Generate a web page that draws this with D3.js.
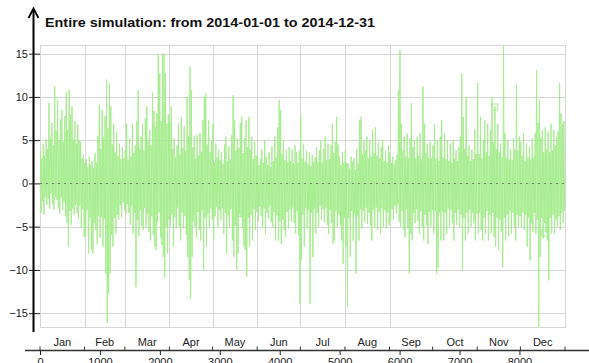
<!DOCTYPE html>
<html>
<head>
<meta charset="utf-8">
<script src="https://cdn.jsdelivr.net/npm/d3@7"></script>
<style>
  html, body { margin: 0; padding: 0; background: #fff; }
  svg { display: block; font-family: "Liberation Sans", Arial, sans-serif; }
</style>
</head>
<body>
<svg id="chart" width="589" height="363"></svg>
<script>
// Chart title
const title = "Entire simulation: from 2014-01-01 to 2014-12-31";

// Month labels along the time axis
const months = ["Jan", "Feb", "Mar", "Apr", "May", "Jun", "Jul", "Aug", "Sep", "Oct", "Nov", "Dec"];

// Hour-of-year ticks on the lower axis
const hourTicks = [0, 1000, 2000, 3000, 4000, 5000, 6000, 7000, 8000];

// Value ticks on the left axis
const valueTicks = [-15, -10, -5, 0, 5, 10, 15];

// Daily maximum of the simulated signal (one value per day, 2014)
const dailyHigh = [
  // Jan
  3.8, 2.9, 4.6, 3.2, 5.1, 4.0, 9.3, 5.2, 7.0, 4.4, 11.2, 6.1, 9.6, 5.0, 7.4, 8.5,
  4.8, 7.8, 10.5, 6.2, 10.8, 8.0, 8.9, 5.1, 7.2, 4.6, 6.8, 5.0, 4.8, 2.9, 3.4,
  // Feb
  2.4, 2.8, 1.9, 3.1, 2.2, 2.6, 1.8, 3.5, 2.4, 5.5, 9.1, 4.0, 8.5, 5.3, 7.8, 12.0,
  6.4, 11.6, 8.9, 4.5, 6.9, 3.6, 6.0, 3.2, 4.6, 2.8, 4.2, 2.9,
  // Mar
  3.8, 6.9, 2.8, 5.2, 3.1, 6.9, 3.5, 4.4, 7.2, 10.8, 4.0, 5.4, 6.9, 3.8, 7.5, 8.9,
  5.0, 6.2, 4.4, 10.5, 8.4, 6.6, 8.1, 14.9, 12.7, 7.2, 15.0, 15.0, 12.7, 6.9, 8.0,
  // Apr
  7.2, 8.9, 4.0, 5.2, 3.0, 4.4, 6.9, 3.4, 7.7, 4.1, 6.6, 3.8, 10.0, 5.5, 13.5, 10.8,
  4.2, 5.5, 2.9, 5.6, 3.2, 5.8, 3.6, 7.3, 10.0, 10.4, 4.5, 7.3, 3.6, 5.0,
  // May
  6.9, 2.5, 4.6, 3.0, 3.9, 2.7, 3.6, 2.3, 4.5, 5.4, 2.6, 4.3, 2.8, 5.6, 10.2, 7.3,
  3.8, 5.2, 4.1, 7.0, 7.7, 3.5, 5.2, 7.3, 4.2, 7.7, 3.9, 5.4, 2.8, 4.8, 3.2,
  // Jun
  3.5, 2.1, 2.8, 3.9, 2.4, 5.0, 3.1, 2.1, 3.6, 1.9, 4.3, 2.6, 5.4, 3.0, 6.5, 9.6,
  8.5, 3.4, 5.0, 2.7, 3.9, 2.5, 4.2, 2.6, 3.9, 2.3, 4.4, 3.6, 2.4, 3.8,
  // Jul
  7.9, 2.9, 4.6, 2.5, 3.8, 2.2, 3.6, 2.0, 3.3, 2.5, 3.0, 4.2, 2.5, 3.8, 5.0, 2.4,
  4.0, 5.4, 2.7, 4.6, 2.8, 4.4, 6.9, 3.5, 4.8, 7.7, 4.5, 3.1, 2.1, 3.6, 2.4,
  // Aug
  3.8, 2.4, 2.3, 1.7, 3.1, 2.5, 2.9, 1.6, 4.0, 2.3, 7.3, 7.7, 3.4, 5.0, 3.8, 5.4,
  2.9, 5.0, 3.1, 6.2, 3.5, 6.5, 3.2, 4.8, 2.9, 4.2, 5.0, 2.6, 3.8, 2.4, 4.4,
  // Sep
  3.6, 2.4, 3.1, 2.2, 2.7, 3.3, 10.8, 15.4, 6.9, 3.8, 5.4, 3.1, 5.8, 2.9, 5.2, 9.3,
  4.2, 5.0, 2.9, 5.4, 3.2, 5.8, 2.8, 11.2, 6.9, 3.5, 4.6, 3.0, 4.8, 2.9,
  // Oct
  4.4, 6.9, 2.9, 5.0, 2.6, 5.4, 7.3, 3.0, 5.8, 2.8, 5.0, 2.6, 4.6, 2.4, 5.0, 2.9,
  3.8, 2.6, 4.2, 5.4, 12.7, 7.7, 4.0, 10.0, 3.2, 4.4, 2.6, 3.9, 2.8, 6.2, 3.4,
  // Nov
  11.6, 3.4, 7.7, 2.9, 5.0, 7.3, 3.6, 6.9, 3.2, 6.2, 10.0, 4.8, 8.9, 4.0, 6.9, 3.6,
  4.6, 3.0, 16.0, 5.8, 3.0, 5.0, 2.8, 3.9, 2.7, 5.2, 3.9, 11.4, 3.8, 5.4,
  // Dec
  4.8, 3.2, 5.8, 2.6, 4.6, 3.0, 4.2, 2.8, 5.2, 3.0, 5.8, 13.1, 7.0, 9.6, 5.3, 6.2,
  3.6, 6.5, 4.0, 6.0, 3.6, 6.9, 3.8, 6.2, 4.4, 5.4, 6.0, 11.6, 8.1, 6.9, 7.2
];

// Daily minimum of the simulated signal (one value per day, 2014)
const dailyLow = [
  // Jan
  -3.4, -2.1, -3.6, -1.6, -2.5, -1.8, -2.9, -1.2, -2.4, -3.0, -1.6, -1.9, -2.8, -3.5, -1.7, -3.1,
  -2.2, -3.8, -4.6, -7.3, -3.2, -4.8, -2.9, -3.6, -2.5, -3.4, -4.1, -2.6, -5.1, -3.0, -6.2,
  // Feb
  -6.2, -3.1, -8.1, -4.0, -7.7, -8.1, -4.6, -5.4, -7.0, -3.8, -6.3, -3.9, -7.3, -4.1, -10.4, -16.1,
  -12.7, -10.4, -6.0, -7.3, -4.0, -5.8, -3.6, -4.2, -2.5, -3.9, -2.2, -3.1,
  // Mar
  -3.6, -2.4, -3.4, -4.8, -2.6, -5.8, -3.4, -12.0, -4.2, -6.1, -3.1, -4.9, -5.4, -2.8, -5.0, -3.5,
  -5.6, -6.6, -3.8, -5.9, -7.3, -7.7, -4.5, -3.4, -6.3, -7.1, -8.5, -10.8, -5.0, -8.1, -4.2,
  // Apr
  -5.0, -3.6, -7.3, -3.9, -5.2, -2.8, -5.0, -6.6, -3.4, -5.2, -3.8, -6.0, -8.5, -11.2, -13.3, -8.5,
  -4.4, -5.0, -6.2, -3.3, -5.4, -6.6, -3.1, -10.0, -4.0, -7.3, -3.5, -5.0, -2.9, -4.2,
  // May
  -6.6, -3.8, -2.7, -5.0, -3.1, -4.2, -2.9, -5.8, -3.4, -8.1, -3.7, -5.0, -3.0, -6.6, -8.5, -4.9,
  -10.0, -8.1, -3.6, -3.9, -5.2, -7.3, -7.7, -10.8, -4.0, -7.3, -3.6, -6.6, -3.0, -5.4, -3.3,
  // Jun
  -4.4, -2.7, -3.8, -5.0, -2.9, -5.8, -3.4, -4.1, -2.6, -4.5, -5.0, -3.3, -6.6, -3.7, -6.6, -4.4,
  -7.0, -4.2, -5.4, -6.2, -3.3, -5.2, -3.0, -4.4, -2.8, -4.6, -5.8, -3.2, -6.0, -13.9,
  // Jul
  -8.9, -3.6, -7.3, -2.8, -5.2, -3.1, -13.9, -3.4, -8.5, -2.9, -5.8, -3.4, -5.0, -2.6, -4.2, -3.0,
  -4.5, -2.8, -4.8, -5.8, -3.1, -4.6, -7.0, -6.6, -3.2, -5.0, -3.6, -4.8, -6.6, -9.3, -4.0,
  // Aug
  -7.3, -14.3, -4.0, -8.5, -3.2, -6.6, -3.5, -10.4, -3.8, -6.6, -3.0, -5.2, -3.2, -4.4, -2.8, -4.7,
  -3.4, -4.9, -6.6, -3.1, -5.0, -2.8, -5.4, -3.3, -5.8, -2.9, -5.0, -3.1, -5.2, -3.4, -4.8,
  // Sep
  -4.4, -3.0, -4.2, -2.6, -3.5, -2.4, -4.4, -5.0, -3.2, -5.4, -6.2, -3.0, -5.2, -10.4, -5.8, -6.6,
  -3.4, -4.6, -3.0, -4.4, -5.8, -3.2, -5.0, -6.6, -3.6, -4.9, -7.0, -3.3, -5.0, -3.1,
  // Oct
  -5.8, -3.2, -10.4, -9.7, -3.4, -6.6, -3.2, -6.6, -3.4, -5.8, -2.9, -5.0, -3.1, -4.6, -6.6, -3.4,
  -4.8, -3.0, -5.0, -3.6, -10.0, -4.0, -6.6, -3.4, -5.8, -3.0, -5.0, -3.4, -4.6, -6.6, -3.5,
  // Nov
  -5.8, -3.4, -5.4, -6.6, -4.0, -5.8, -3.2, -6.6, -3.6, -5.8, -3.4, -6.2, -7.3, -4.0, -7.7, -4.2,
  -5.6, -9.7, -4.0, -6.6, -3.6, -6.2, -3.2, -5.8, -3.4, -5.0, -6.6, -3.6, -5.0, -3.8,
  // Dec
  -5.0, -3.4, -5.4, -3.6, -7.3, -4.0, -8.9, -4.6, -5.6, -3.4, -5.8, -4.2, -16.6, -8.5, -4.0, -6.4,
  -4.6, -5.7, -6.6, -11.2, -4.0, -5.8, -3.6, -5.8, -4.2, -5.0, -3.8, -5.4, -3.4, -4.6, -3.2
];

// Highlighted samples (hour of year, value)
const markerHours = [3339, 7587, 8421];
const markerValues = [-3.5, 8.84, -5.74];

// ---- layout ----
const plot = { left: 40, right: 565, top: 45, bottom: 327 };
const axisX = 33.5;
const lowerAxisY = 350;
const green = "#a6ed8f";
const gridColor = "#d6d6d6";

const svg = d3.select("#chart");
svg.append("rect").attr("width", 589).attr("height", 363).attr("fill", "#fff");

const start = new Date(Date.UTC(2014, 0, 1));
const end = new Date(Date.UTC(2015, 0, 1));

const xHour = d3.scaleLinear().domain([0, 8760]).range([plot.left, plot.right]);
const xTime = d3.scaleUtc().domain([start, end]).range([plot.left, plot.right]);
const y = d3.scaleLinear()
  .domain(d3.extent(dailyHigh.concat(dailyLow)))
  .range([plot.bottom, plot.top]);

// plot frame and grid
svg.append("rect")
  .attr("x", plot.left + 0.5).attr("y", plot.top + 0.5)
  .attr("width", plot.right - plot.left).attr("height", plot.bottom - plot.top)
  .attr("fill", "none").attr("stroke", gridColor);

svg.append("g").selectAll("line").data(valueTicks).join("line")
  .attr("x1", plot.left).attr("x2", plot.right)
  .attr("y1", d => Math.round(y(d)) + 0.5).attr("y2", d => Math.round(y(d)) + 0.5)
  .attr("stroke", gridColor);

const monthStarts = d3.utcMonth.range(start, end);
svg.append("g").selectAll("line").data(monthStarts.slice(0, 9)).join("line")
  .attr("x1", d => Math.round(xTime(d)) + 0.5).attr("x2", d => Math.round(xTime(d)) + 0.5)
  .attr("y1", plot.top).attr("y2", plot.bottom)
  .attr("stroke", gridColor);

// the signal: daily max / min alternating over the hours of each day
const points = [];
dailyHigh.forEach((hi, i) => {
  points.push([i * 24 + 6, hi]);
  points.push([i * 24 + 18, dailyLow[i]]);
});
const line = d3.line().x(d => xHour(d[0])).y(d => y(d[1]));
svg.append("path")
  .attr("d", line(points))
  .attr("fill", "none")
  .attr("stroke", green)
  .attr("stroke-width", 1)
  .attr("stroke-linejoin", "miter");

// zero reference line
svg.append("line")
  .attr("x1", plot.left).attr("x2", plot.right)
  .attr("y1", Math.round(y(0)) + 0.5).attr("y2", Math.round(y(0)) + 0.5)
  .attr("stroke", "#444").attr("stroke-opacity", 0.6)
  .attr("stroke-dasharray", "2,4");

// highlighted samples
svg.append("g").selectAll("rect").data(markerHours).join("rect")
  .attr("x", (d) => xHour(d) - 3)
  .attr("y", (d, i) => y(markerValues[i]) - 3)
  .attr("width", 6).attr("height", 6)
  .attr("fill", "none").attr("stroke", green).attr("stroke-width", 1);

// left value axis with arrow
const yAxis = d3.axisLeft(y).tickValues(valueTicks).tickSize(11).tickPadding(1);
const gy = svg.append("g").attr("transform", `translate(${plot.left},0)`).call(yAxis);
gy.select(".domain").remove();
gy.selectAll(".tick line").attr("stroke", "#222");
gy.selectAll(".tick text").attr("font-size", 11).attr("fill", "#222")
  .attr("font-family", "Liberation Sans, Arial, sans-serif");

svg.append("line")
  .attr("x1", axisX).attr("x2", axisX).attr("y1", 332).attr("y2", 9)
  .attr("stroke", "#000").attr("stroke-width", 2);
svg.append("path")
  .attr("d", `M${axisX - 5},18 L${axisX},8.5 L${axisX + 5},18`)
  .attr("fill", "none").attr("stroke", "#000").attr("stroke-width", 1.8);

// title
svg.append("text")
  .attr("x", 45).attr("y", 27)
  .attr("font-size", 13).attr("font-weight", "bold").attr("fill", "#111")
  .attr("textLength", 330).attr("lengthAdjust", "spacingAndGlyphs")
  .text(title);

// lower axis: hour of year
const hourAxis = d3.axisBottom(xHour).tickValues(hourTicks).tickSize(5).tickPadding(3)
  .tickFormat(d3.format("d"));
const gx = svg.append("g").attr("transform", `translate(0,${lowerAxisY})`).call(hourAxis);
gx.select(".domain").remove();
gx.selectAll(".tick line").attr("stroke", "#222");
gx.selectAll(".tick text").attr("font-size", 11).attr("fill", "#222")
  .attr("font-family", "Liberation Sans, Arial, sans-serif");

svg.append("line")
  .attr("x1", 25).attr("x2", 589).attr("y1", lowerAxisY + 0.5).attr("y2", lowerAxisY + 0.5)
  .attr("stroke", "#333").attr("stroke-width", 1.5);

// month boundaries and month names
const boundaries = monthStarts.concat([end]);
svg.append("g").selectAll("line").data(boundaries).join("line")
  .attr("x1", d => xTime(d)).attr("x2", d => xTime(d))
  .attr("y1", lowerAxisY - 3.5).attr("y2", lowerAxisY)
  .attr("stroke", "#333");

svg.append("g").selectAll("text").data(monthStarts).join("text")
  .attr("x", d => xTime(new Date((+d + +d3.utcMonth.offset(d, 1)) / 2)))
  .attr("y", 346)
  .attr("text-anchor", "middle")
  .attr("font-size", 11).attr("fill", "#222")
  .text((d, i) => months[i]);
</script>
</body>
</html>
